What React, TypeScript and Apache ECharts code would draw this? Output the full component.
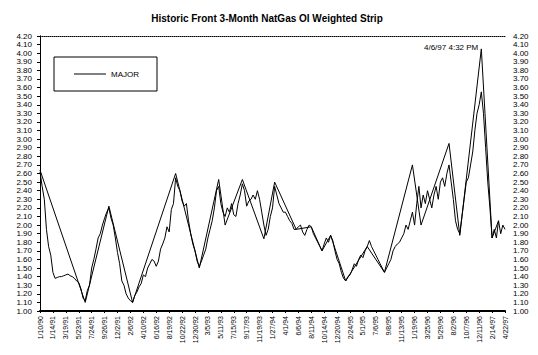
import React, { useEffect, useRef } from "react";
import * as echarts from "echarts";

const TITLE = "Historic Front 3-Month NatGas OI Weighted Strip";
const STAMP = "4/6/97 4:32 PM";

const dateLabels = [
  "1/10/90", "1/14/91", "3/19/91", "5/23/91", "7/24/91", "9/26/91", "12/2/91",
  "2/6/92", "4/10/92", "6/16/92", "8/19/92", "10/22/92", "12/30/92", "3/5/93",
  "5/11/93", "7/15/93", "9/17/93", "11/19/93", "1/27/94", "4/1/94", "6/6/94",
  "8/11/94", "10/14/94", "12/20/94", "2/24/95", "5/1/95", "7/6/95", "9/8/95",
  "11/13/95", "1/19/96", "3/25/96", "5/29/96", "8/2/96", "10/7/96", "12/11/96",
  "2/14/97", "4/22/97",
];
const POINTS_PER_LABEL = 6;

// MAJOR strip values (6 readings per label interval)
const majorValues = [
  2.62, 2.45, 2.30, 1.95, 1.75, 1.65, 1.45, 1.38, 1.39, 1.40, 1.40, 1.41,
  1.42, 1.43, 1.41, 1.40, 1.38, 1.35, 1.33, 1.26, 1.15, 1.12, 1.24, 1.30,
  1.50, 1.60, 1.72, 1.85, 1.90, 2.00, 2.08, 2.15, 2.20, 2.08, 2.00, 1.85,
  1.68, 1.55, 1.35, 1.30, 1.20, 1.15, 1.12, 1.10, 1.18, 1.22, 1.28, 1.32,
  1.42, 1.40, 1.50, 1.55, 1.60, 1.58, 1.52, 1.58, 1.72, 1.78, 1.85, 1.98,
  1.92, 2.18, 2.25, 2.55, 2.45, 2.40, 2.28, 2.22, 2.25, 2.05, 1.90, 1.78,
  1.70, 1.58, 1.52, 1.58, 1.65, 1.72, 1.85, 1.95, 2.05, 2.20, 2.40, 2.45,
  2.25, 2.15, 2.10, 2.20, 2.15, 2.25, 2.12, 2.10, 2.25, 2.35, 2.48, 2.40,
  2.22, 2.28, 2.30, 2.35, 2.30, 2.40, 2.30, 2.15, 2.00, 1.88, 1.95, 2.10,
  2.20, 2.45, 2.35, 2.25, 2.20, 2.15, 2.15, 2.10, 2.05, 2.02, 1.95, 1.95,
  1.98, 2.00, 1.92, 1.88, 1.95, 2.00, 1.98, 1.90, 1.85, 1.80, 1.75, 1.70,
  1.78, 1.85, 1.80, 1.88, 1.82, 1.70, 1.60, 1.55, 1.45, 1.38, 1.35, 1.40,
  1.42, 1.48, 1.55, 1.52, 1.60, 1.65, 1.62, 1.70, 1.75, 1.82, 1.75, 1.70,
  1.65, 1.60, 1.55, 1.50, 1.45, 1.50, 1.55, 1.60, 1.70, 1.75, 1.78, 1.80,
  1.85, 1.90, 2.00, 1.95, 2.05, 2.15, 2.00, 2.25, 2.45, 2.20, 2.35, 2.25,
  2.40, 2.30, 2.20, 2.35, 2.45, 2.30, 2.50, 2.55, 2.45, 2.60, 2.70, 2.50,
  2.30, 2.05, 1.95, 1.90, 2.10, 2.30, 2.50, 2.55, 2.70, 2.85, 3.10, 3.30,
  3.40, 3.55, 3.30, 2.90, 2.50, 2.20, 1.85, 1.95, 1.85, 2.05, 1.90, 2.00,
  1.95,
];

// Second (straight-segment) series: turning points [reading index, value]
const swingPoints: [number, number][] = [
  [0, 2.64], [21, 1.10], [32, 2.22], [43, 1.10], [63, 2.60], [74, 1.50],
  [83, 2.53], [86, 2.00], [94, 2.53], [104, 1.84], [109, 2.50], [119, 1.95],
  [126, 1.98], [131, 1.70], [135, 1.88], [142, 1.35], [152, 1.75],
  [160, 1.45], [173, 2.70], [177, 2.00], [190, 2.95], [195, 1.88],
  [205, 4.05], [210, 1.85], [213, 2.05],
];

const Y_MIN = 1.0;
const Y_MAX = 4.2;
const Y_STEP = 0.1;

export default function App() {
  const ref = useRef<HTMLDivElement>(null);
  useEffect(() => {
    if (!ref.current) return;
    const chart = echarts.init(ref.current, null, { renderer: "svg" });
    const font = "Liberation Sans, Arial, sans-serif";
    const maxIdx = (dateLabels.length - 1) * POINTS_PER_LABEL;
    const yAxisBase = {
      type: "value",
      min: Y_MIN,
      max: Y_MAX,
      interval: Y_STEP,
      splitLine: { show: false },
      axisLine: { show: true, lineStyle: { color: "#000", width: 1 } },
      axisTick: { show: true, length: 3, lineStyle: { color: "#000" } },
      axisLabel: {
        color: "#000",
        fontSize: 8,
        fontFamily: font,
        formatter: (v: number) => v.toFixed(2),
      },
    };
    chart.setOption({
      animation: false,
      backgroundColor: "#fff",
      title: {
        text: TITLE,
        left: 262,
        top: 8,
        textAlign: "center",
        textStyle: { fontSize: 10, fontWeight: "bold", color: "#000", fontFamily: font },
      },
      legend: {
        data: [{ name: "MAJOR", icon: "rect" }],
        left: 54,
        top: 57,
        padding: [13, 18, 13, 20],
        itemWidth: 32,
        itemHeight: 1,
        itemGap: 4,
        borderColor: "#000",
        borderWidth: 1,
        textStyle: { fontSize: 8, color: "#000", fontFamily: font },
      },
      graphic: [
        {
          type: "text",
          left: 424,
          top: 43,
          style: { text: STAMP, fontSize: 8, fill: "#000", fontFamily: font },
        },
      ],
      grid: { left: 40, right: 33, top: 36, bottom: 44 },
      xAxis: [
        {
          type: "value",
          min: 0,
          max: maxIdx,
          interval: POINTS_PER_LABEL,
          splitLine: { show: false },
          axisLine: { lineStyle: { color: "#000", width: 2 } },
          axisTick: { show: true, length: 2, lineStyle: { color: "#000" } },
          axisLabel: {
            rotate: 90,
            fontSize: 7,
            color: "#000",
            fontFamily: font,
            margin: 5,
            formatter: (v: number) => dateLabels[Math.round(v / POINTS_PER_LABEL)] ?? "",
          },
        },
        {
          type: "value",
          position: "top",
          min: 0,
          max: maxIdx,
          axisLine: { show: true, lineStyle: { color: "#000", width: 1, type: "dotted" } },
          axisTick: { show: false },
          axisLabel: { show: false },
          splitLine: { show: false },
        },
      ],
      yAxis: [
        { ...yAxisBase, position: "left" },
        {
          ...yAxisBase,
          position: "right",
          axisTick: { show: true, length: 3, inside: true, lineStyle: { color: "#000" } },
        },
      ],
      series: [
        {
          name: "MAJOR",
          type: "line",
          data: majorValues.map((v, i) => [i, v]),
          showSymbol: false,
          symbol: "none",
          lineStyle: { color: "#000", width: 1 },
          itemStyle: { color: "#000" },
        },
        {
          name: "Swing",
          type: "line",
          data: swingPoints,
          showSymbol: false,
          symbol: "none",
          lineStyle: { color: "#000", width: 1 },
          itemStyle: { color: "#000" },
        },
      ],
    });
    return () => chart.dispose();
  }, []);
  return <div ref={ref} style={{ width: 538, height: 355, position: "absolute", left: 0, top: 0 }} />;
}
